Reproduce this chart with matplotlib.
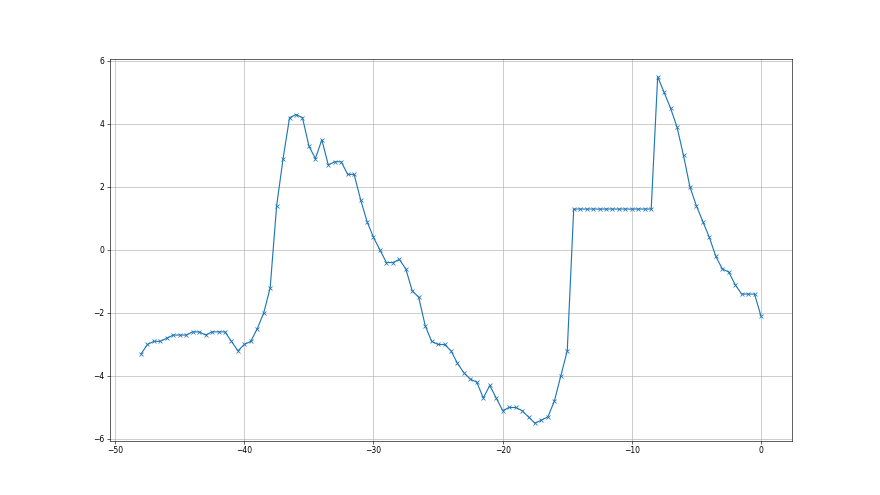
import numpy as np
import matplotlib
matplotlib.use("Agg")
import matplotlib.pyplot as plt

x = np.arange(-48, 0.01, 0.5)

seg1 = [-3.3, -3.0, -2.9, -2.9, -2.8, -2.7, -2.7, -2.7, -2.6, -2.6, -2.7,
        -2.6, -2.6, -2.6, -2.9, -3.2, -3.0, -2.9, -2.5, -2.0, -1.2]
seg2 = [1.4, 2.9, 4.2, 4.3, 4.2, 3.3, 2.9, 3.5, 2.7, 2.8, 2.8, 2.4, 2.4,
        1.6, 0.9, 0.4]
seg3 = [0.0, -0.4, -0.4, -0.3, -0.6, -1.3, -1.5, -2.4, -2.9, -3.0, -3.0, -3.2]
seg4 = [-3.6, -3.9, -4.1, -4.2, -4.7, -4.3, -4.7, -5.1, -5.0, -5.0, -5.1,
        -5.3, -5.5, -5.4, -5.3, -4.8, -4.0, -3.2]
seg5 = [1.3] * 13
seg6 = [5.5, 5.0, 4.5, 3.9, 3.0, 2.0, 1.4, 0.9, 0.4, -0.2, -0.6, -0.7,
        -1.1, -1.4, -1.4, -1.4, -2.1]

y = seg1 + seg2 + seg3 + seg4 + seg5 + seg6

fig, ax = plt.subplots(figsize=(16, 9), dpi=55)
ax.plot(x, y, marker='x', color='#1f77b4')
ax.grid(True)
fig.savefig("out.png", dpi=55)
